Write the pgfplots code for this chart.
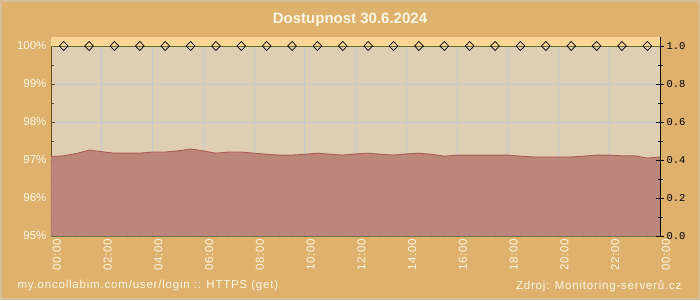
\documentclass[border=0pt]{standalone}
\usepackage{pgfplots}
\pgfplotsset{compat=1.18}
\usepackage{fontspec}
\setmainfont{Liberation Sans}
\newfontfamily\monofont{Liberation Mono}
\newfontfamily\spaced[LetterSpace=7]{Liberation Sans}
\newfontfamily\spacedx[LetterSpace=5]{Liberation Sans}
\definecolor{bgor}{RGB}{222,178,108}
\definecolor{framec}{RGB}{214,190,150}
\definecolor{plotbg}{RGB}{222,207,180}
\definecolor{topband}{RGB}{253,214,150}
\definecolor{areac}{RGB}{185,130,118}
\definecolor{areaedge}{RGB}{172,92,82}
\definecolor{cream}{RGB}{255,246,228}
\definecolor{leftax}{RGB}{105,75,35}
\definecolor{botax}{RGB}{95,112,72}
\definecolor{gridc}{RGB}{200,200,206}
\definecolor{oliveline}{RGB}{100,110,40}
\begin{document}
\begin{tikzpicture}[x=1pt,y=1pt]
\fill[bgor] (0,0) rectangle (700,300);
\draw[framec, line width=2pt] (1,1) rectangle (699,299);
\node[text=cream, font=\bfseries\fontsize{15}{18}\selectfont] at (350,280) {Dostupnost 30.6.2024};
\node[text=cream, font=\spaced\fontsize{11.5}{13}\selectfont, anchor=west] at (14,14) {my.oncollabim.com/user/login :: HTTPS (get)};
\node[text=cream, font=\spaced\fontsize{11.5}{13}\selectfont, anchor=east] at (685,14) {Zdroj: Monitoring-serverů.cz};
\begin{axis}[
  at={(51pt,64pt)}, anchor=south west, scale only axis,
  width=609pt, height=199pt,
  xmin=0, xmax=24, ymin=95, ymax=100.237,
  axis x line*=bottom, axis y line*=left,
  x axis line style={draw=botax, line width=0.8pt, -},
  y axis line style={draw=leftax, line width=0.8pt, -},
  axis background/.style={fill=plotbg},
  xtick={0,2,...,24},
  xticklabels={00:00,02:00,04:00,06:00,08:00,10:00,12:00,14:00,16:00,18:00,20:00,22:00,00:00},
  minor x tick num=3,
  ytick={95,96,97,98,99,100},
  yticklabels={95\%,96\%,97\%,98\%,99\%,100\%},
  minor y tick num=1,
  tick align=inside,
  major tick length=4pt, minor tick length=3pt,
  x tick style={draw=botax, line width=0.8pt},
  y tick style={draw=leftax, line width=0.8pt},
  grid=major,
  major grid style={draw=gridc, line width=0.6pt},
  xticklabel style={rotate=90, anchor=east, text=cream, font=\spacedx\fontsize{11.5}{13}\selectfont, yshift=-6pt},
  yticklabel style={text=cream, font=\fontsize{11.5}{13}\selectfont, xshift=-1pt},
  /pgf/number format/assume math mode=true,
  clip=true,
]
\fill[topband] (axis cs:0,100) rectangle (axis cs:24,100.237);
\addplot[fill=areac, draw=none, fill opacity=0.93] table {
x y
0 97.09
0.5 97.11
1 97.17
1.5 97.26
2 97.22
2.5 97.18
3 97.18
3.5 97.18
4 97.21
4.5 97.21
5 97.24
5.5 97.29
6 97.24
6.5 97.18
7 97.21
7.5 97.21
8 97.18
8.5 97.15
9 97.13
9.5 97.13
10 97.15
10.5 97.18
11 97.15
11.5 97.13
12 97.16
12.5 97.18
13 97.15
13.5 97.13
14 97.16
14.5 97.18
15 97.15
15.5 97.10
16 97.13
16.5 97.13
17 97.13
17.5 97.13
18 97.13
18.5 97.10
19 97.08
19.5 97.08
20 97.08
20.5 97.08
21 97.10
21.5 97.13
22 97.13
22.5 97.11
23 97.11
23.5 97.05
24 97.08
} \closedcycle;
\addplot[draw=areaedge, line width=0.9pt, mark=none] table {
x y
0 97.09
0.5 97.11
1 97.17
1.5 97.26
2 97.22
2.5 97.18
3 97.18
3.5 97.18
4 97.21
4.5 97.21
5 97.24
5.5 97.29
6 97.24
6.5 97.18
7 97.21
7.5 97.21
8 97.18
8.5 97.15
9 97.13
9.5 97.13
10 97.15
10.5 97.18
11 97.15
11.5 97.13
12 97.16
12.5 97.18
13 97.15
13.5 97.13
14 97.16
14.5 97.18
15 97.15
15.5 97.10
16 97.13
16.5 97.13
17 97.13
17.5 97.13
18 97.13
18.5 97.10
19 97.08
19.5 97.08
20 97.08
20.5 97.08
21 97.10
21.5 97.13
22 97.13
22.5 97.11
23 97.11
23.5 97.05
24 97.08
};
\end{axis}
\begin{axis}[
  at={(51pt,64pt)}, anchor=south west, scale only axis,
  width=609pt, height=199pt,
  xmin=0, xmax=24, ymin=0, ymax=1.0474,
  axis x line=none, axis y line*=right,
  y axis line style={draw=black, line width=0.8pt, -},
  ytick={0,0.2,0.4,0.6,0.8,1.0},
  yticklabels={0.0,0.2,0.4,0.6,0.8,1.0},
  minor y tick num=1,
  y tick style={draw=black, line width=0.8pt},
  tick align=center,
  major tick length=8pt, minor tick length=5pt,
  yticklabel style={text=black, font=\monofont\fontsize{10.5}{12}\selectfont, xshift=-1pt},
  /pgf/number format/assume math mode=true,
  clip=false,
]
\addplot[draw=oliveline, line width=0.9pt, mark=none] coordinates {(0,1) (24,1)};
\addplot[only marks, mark=diamond, mark size=4.5pt, mark options={draw=black, fill=none, line width=0.7pt, xscale=1.3}] coordinates {
(0.5,1) (1.5,1) (2.5,1) (3.5,1) (4.5,1) (5.5,1) (6.5,1) (7.5,1) (8.5,1) (9.5,1) (10.5,1) (11.5,1)
(12.5,1) (13.5,1) (14.5,1) (15.5,1) (16.5,1) (17.5,1) (18.5,1) (19.5,1) (20.5,1) (21.5,1) (22.5,1) (23.5,1)
};
\end{axis}
\end{tikzpicture}
\end{document}
